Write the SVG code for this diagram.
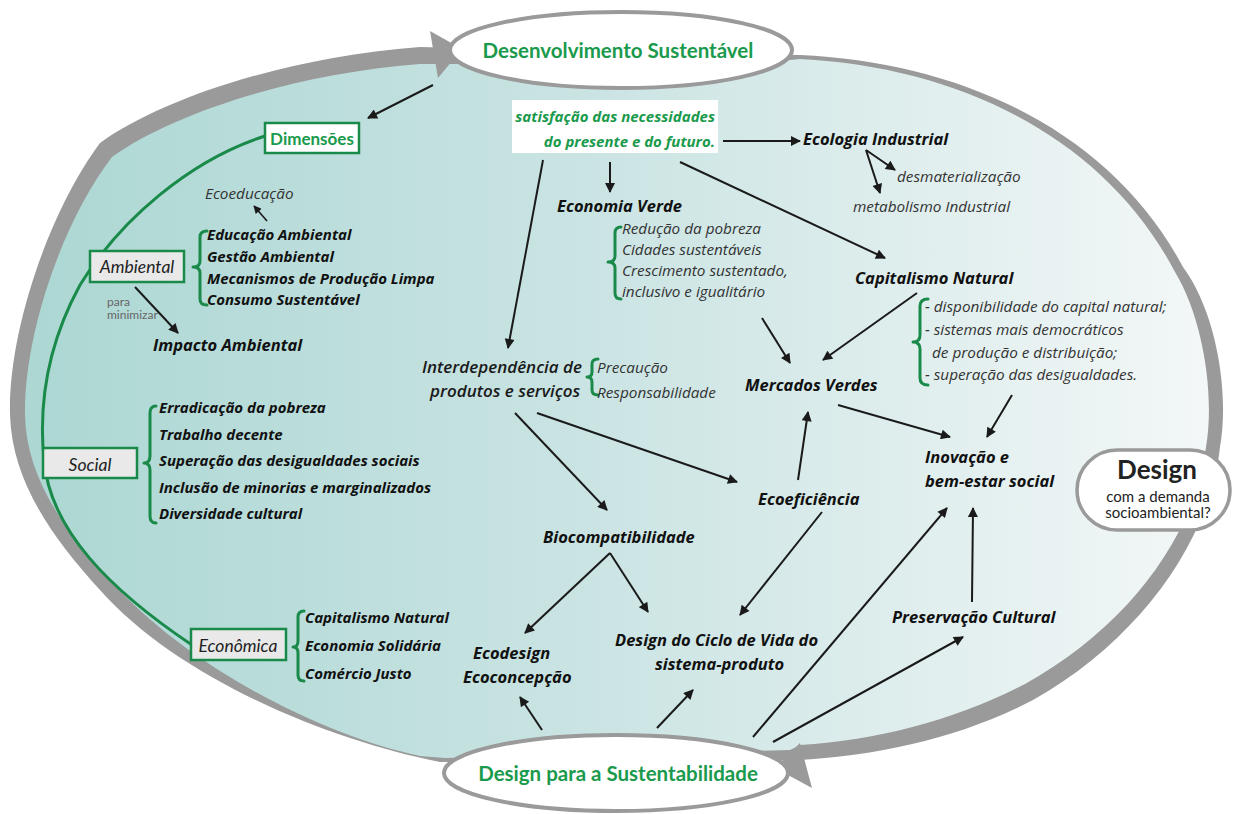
<svg xmlns="http://www.w3.org/2000/svg" width="1234" height="814" viewBox="0 0 1234 814">
<defs>
<linearGradient id="bg" x1="0" y1="0" x2="1" y2="0">
<stop offset="0" stop-color="#acd7d3"/>
<stop offset="0.45" stop-color="#c8e3e2"/>
<stop offset="1" stop-color="#f3f7f7"/>
</linearGradient>
<marker id="ah" viewBox="0 0 10 10" refX="9" refY="5" markerWidth="6" markerHeight="5" orient="auto" markerUnits="strokeWidth">
<path d="M0,0 L10,5 L0,10 z" fill="#1a1a1a"/>
</marker>
<style>
text{font-family:Lato,"Liberation Sans",sans-serif}
.bi{font-family:"Open Sans","Noto Sans",sans-serif;font-weight:700;font-style:italic;font-size:15px;fill:#111}
.nd{font-size:16.5px}
.sb{font-family:"Open Sans","Noto Sans",sans-serif;font-weight:600;font-style:italic;font-size:17px;fill:#1a1a1a}
.ri{font-family:"Open Sans","Noto Sans",sans-serif;font-weight:400;font-style:italic;font-size:15.3px;fill:#333}
.gt{font-weight:700;fill:#1a9a4c}
.gi{font-family:"Open Sans","Noto Sans",sans-serif;font-weight:700;font-style:italic;font-size:15px;fill:#1a9a4c}
.box{fill:#e9e9e9;stroke:#1a8a4a;stroke-width:2.5}
.brace{fill:none;stroke:#1a8a4a;stroke-width:3;stroke-linecap:round;stroke-linejoin:round}
.conn line{stroke:#1a1a1a;stroke-width:2;marker-end:url(#ah)}
.node-ell{fill:#fff;stroke:#9a9a9a;stroke-width:4}
</style>
</defs>

<g id="background">
<path fill="#9a9a9a" d="M10 415 C8 330 50 210 100 143 C160 100 280 58 420 47 L800 55 C960 62 1110 130 1183 267 C1215 310 1230 390 1220 447 C1210 540 1140 640 1033 700 C960 738 880 755 800 760 L440 762 C330 740 180 680 100 590 C50 535 12 480 10 415 Z"/>
<path fill="url(#bg)" d="M25 415 C24 335 62 222 112 157 C170 115 290 74 420 64 L455 64 L790 60 L800 59 C960 67 1105 138 1175 272 C1203 318 1215 395 1206 447 C1195 535 1128 627 1025 684 C955 720 880 740 800 745 L790 750 L445 758 L420 756 C320 735 185 665 110 580 C62 528 26 475 25 415 Z"/>
<polygon fill="#9a9a9a" points="430,31 462,49 438,78"/>
<polygon fill="#9a9a9a" points="800,743 775,768 812,788"/>
</g>

<g id="dimension-line">
<path fill="none" stroke="#1a8a4a" stroke-width="3" d="M265 136 C190 160 120 220 80 285 C50 340 38 400 44 460 C50 530 110 590 192 645"/>
</g>

<g id="connectors" class="conn">
<line x1="433" y1="85" x2="368" y2="118"/>
<line x1="723" y1="141" x2="800" y2="141"/>
<line x1="866" y1="150" x2="895" y2="170"/>
<line x1="866" y1="150" x2="880" y2="193"/>
<line x1="610" y1="162" x2="610" y2="192"/>
<line x1="680" y1="162" x2="885" y2="258"/>
<line x1="543" y1="160" x2="508" y2="348"/>
<line x1="762" y1="318" x2="790" y2="363"/>
<line x1="917" y1="293" x2="823" y2="360"/>
<line x1="515" y1="413" x2="607" y2="510"/>
<line x1="537" y1="413" x2="737" y2="482"/>
<line x1="798" y1="480" x2="808" y2="412"/>
<line x1="838" y1="405" x2="950" y2="437"/>
<line x1="1012" y1="395" x2="987" y2="437"/>
<line x1="822" y1="512" x2="740" y2="615"/>
<line x1="610" y1="553" x2="525" y2="633"/>
<line x1="610" y1="553" x2="648" y2="612"/>
<line x1="542" y1="730" x2="520" y2="697"/>
<line x1="657" y1="728" x2="693" y2="690"/>
<line x1="753" y1="737" x2="947" y2="508"/>
<line x1="773" y1="742" x2="963" y2="637"/>
<line x1="972" y1="602" x2="973" y2="508"/>
<line x1="135" y1="287" x2="178" y2="333"/>
<line x1="267" y1="221" x2="254" y2="206" style="stroke-width:1.6"/>
</g>

<g id="node-desenvolvimento">
<ellipse class="node-ell" cx="621" cy="50" rx="171" ry="38"/>
<text class="gt" x="618" y="58" font-size="20.5" text-anchor="middle">Desenvolvimento Sustentável</text>
</g>

<g id="node-design-sustentabilidade">
<ellipse class="node-ell" cx="616" cy="773" rx="172" ry="38"/>
<text class="gt" x="618" y="781" font-size="20.5" text-anchor="middle">Design para a Sustentabilidade</text>
</g>

<g id="node-design-question">
<rect x="1077" y="450" width="153" height="80" rx="40" ry="40" fill="#fff" stroke="#9a9a9a" stroke-width="3.5"/>
<text x="1157" y="479" font-size="26" font-weight="700" fill="#222" text-anchor="middle">Design</text>
<text x="1158" y="502" font-size="15" fill="#222" text-anchor="middle">com a demanda</text>
<text x="1158" y="518" font-size="15" fill="#222" text-anchor="middle">socioambiental?</text>
</g>

<g id="node-dimensoes">
<rect x="265" y="123" width="94" height="30" fill="#fff" stroke="#1a8a4a" stroke-width="2.5"/>
<text class="gt" x="312" y="145" font-size="17" text-anchor="middle">Dimensões</text>
</g>

<g id="node-ambiental">
<rect class="box" x="90" y="251" width="94" height="31"/>
<text x="137" y="273" font-size="17.5" font-style="italic" fill="#222" text-anchor="middle">Ambiental</text>
<path class="brace" d="M207 231 Q200 231 200 237 L200 261 Q200 267 193 267 Q200 267 200 273 L200 299 Q200 305 207 305"/>
<text class="bi" x="207" y="240">Educação Ambiental</text>
<text class="bi" x="207" y="262">Gestão Ambiental</text>
<text class="bi" x="207" y="284">Mecanismos de Produção Limpa</text>
<text class="bi" x="207" y="305">Consumo Sustentável</text>
<text class="ri" x="205" y="199" font-size="17">Ecoeducação</text>
<text x="107" y="306" font-size="12" fill="#666">para</text>
<text x="107" y="319" font-size="12" fill="#666">minimizar</text>
<text class="bi nd" x="153" y="351">Impacto Ambiental</text>
</g>

<g id="node-social">
<rect class="box" x="43" y="448" width="94" height="30"/>
<text x="90" y="471" font-size="17.5" font-style="italic" fill="#222" text-anchor="middle">Social</text>
<path class="brace" d="M156 406 Q150 406 150 413 L150 456 Q150 463 144 463 Q150 463 150 470 L150 516 Q150 523 156 523"/>
<text class="bi" x="159" y="413">Erradicação da pobreza</text>
<text class="bi" x="159" y="440">Trabalho decente</text>
<text class="bi" x="159" y="466">Superação das desigualdades sociais</text>
<text class="bi" x="159" y="493">Inclusão de minorias e marginalizados</text>
<text class="bi" x="159" y="519">Diversidade cultural</text>
</g>

<g id="node-economica">
<rect class="box" x="191" y="629" width="95" height="31"/>
<text x="238" y="652" font-size="17.5" font-style="italic" fill="#222" text-anchor="middle">Econômica</text>
<path class="brace" d="M304 611 Q298 611 298 617 L298 641 Q298 647 293 647 Q298 647 298 653 L298 675 Q298 681 304 681"/>
<text class="bi" x="305" y="623">Capitalismo Natural</text>
<text class="bi" x="305" y="651">Economia Solidária</text>
<text class="bi" x="305" y="679">Comércio Justo</text>
</g>

<g id="node-satisfacao">
<rect x="512" y="100" width="206" height="53" fill="#fff"/>
<text class="gi" x="715" y="122" text-anchor="end">satisfação das necessidades</text>
<text class="gi" x="715" y="147" text-anchor="end">do presente e do futuro.</text>
</g>

<g id="node-ecologia">
<text class="bi nd" x="803" y="145">Ecologia Industrial</text>
<text class="ri" x="897" y="182">desmaterialização</text>
<text class="ri" x="853" y="212">metabolismo Industrial</text>
</g>

<g id="node-economia-verde">
<text class="bi nd" x="557" y="212">Economia Verde</text>
<path class="brace" d="M621 227 Q615 227 615 233 L615 256 Q615 262 608 262 Q615 262 615 268 L615 293 Q615 299 621 299"/>
<text class="ri" x="622" y="234">Redução da pobreza</text>
<text class="ri" x="622" y="255">Cidades sustentáveis</text>
<text class="ri" x="622" y="276">Crescimento sustentado,</text>
<text class="ri" x="622" y="297">inclusivo e igualitário</text>
</g>

<g id="node-capitalismo">
<text class="bi nd" x="855" y="284">Capitalismo Natural</text>
<path class="brace" d="M928 299 Q920 299 920 306 L920 335 Q920 342 913 342 Q920 342 920 349 L920 378 Q920 385 928 385"/>
<text class="ri" x="925" y="312">- disponibilidade do capital natural;</text>
<text class="ri" x="925" y="335">- sistemas mais democráticos</text>
<text class="ri" x="932" y="358">de produção e distribuição;</text>
<text class="ri" x="925" y="380">- superação das desigualdades.</text>
</g>

<g id="node-interdependencia">
<text class="sb" x="422" y="373">Interdependência de</text>
<text class="sb" x="430" y="397">produtos e serviços</text>
<path class="brace" d="M598 359 Q592 359 592 364 L592 372 Q592 377 587 377 Q592 377 592 382 L592 390 Q592 395 598 395"/>
<text class="ri" x="597" y="373">Precaução</text>
<text class="ri" x="597" y="398">Responsabilidade</text>
</g>

<g id="node-mercados"><text class="bi nd" x="745" y="391">Mercados Verdes</text></g>
<g id="node-biocompatibilidade"><text class="bi nd" x="543" y="543">Biocompatibilidade</text></g>
<g id="node-ecoeficiencia"><text class="bi nd" x="758" y="505">Ecoeficiência</text></g>
<g id="node-inovacao">
<text class="bi nd" x="925" y="463">Inovação e</text>
<text class="bi nd" x="925" y="487">bem-estar social</text>
</g>
<g id="node-design-ciclo">
<text class="bi nd" x="615" y="646">Design do Ciclo de Vida do</text>
<text class="bi nd" x="655" y="670">sistema-produto</text>
</g>
<g id="node-ecodesign">
<text class="bi nd" x="473" y="659">Ecodesign</text>
<text class="bi nd" x="463" y="683">Ecoconcepção</text>
</g>
<g id="node-preservacao"><text class="bi nd" x="892" y="623">Preservação Cultural</text></g>
</svg>
